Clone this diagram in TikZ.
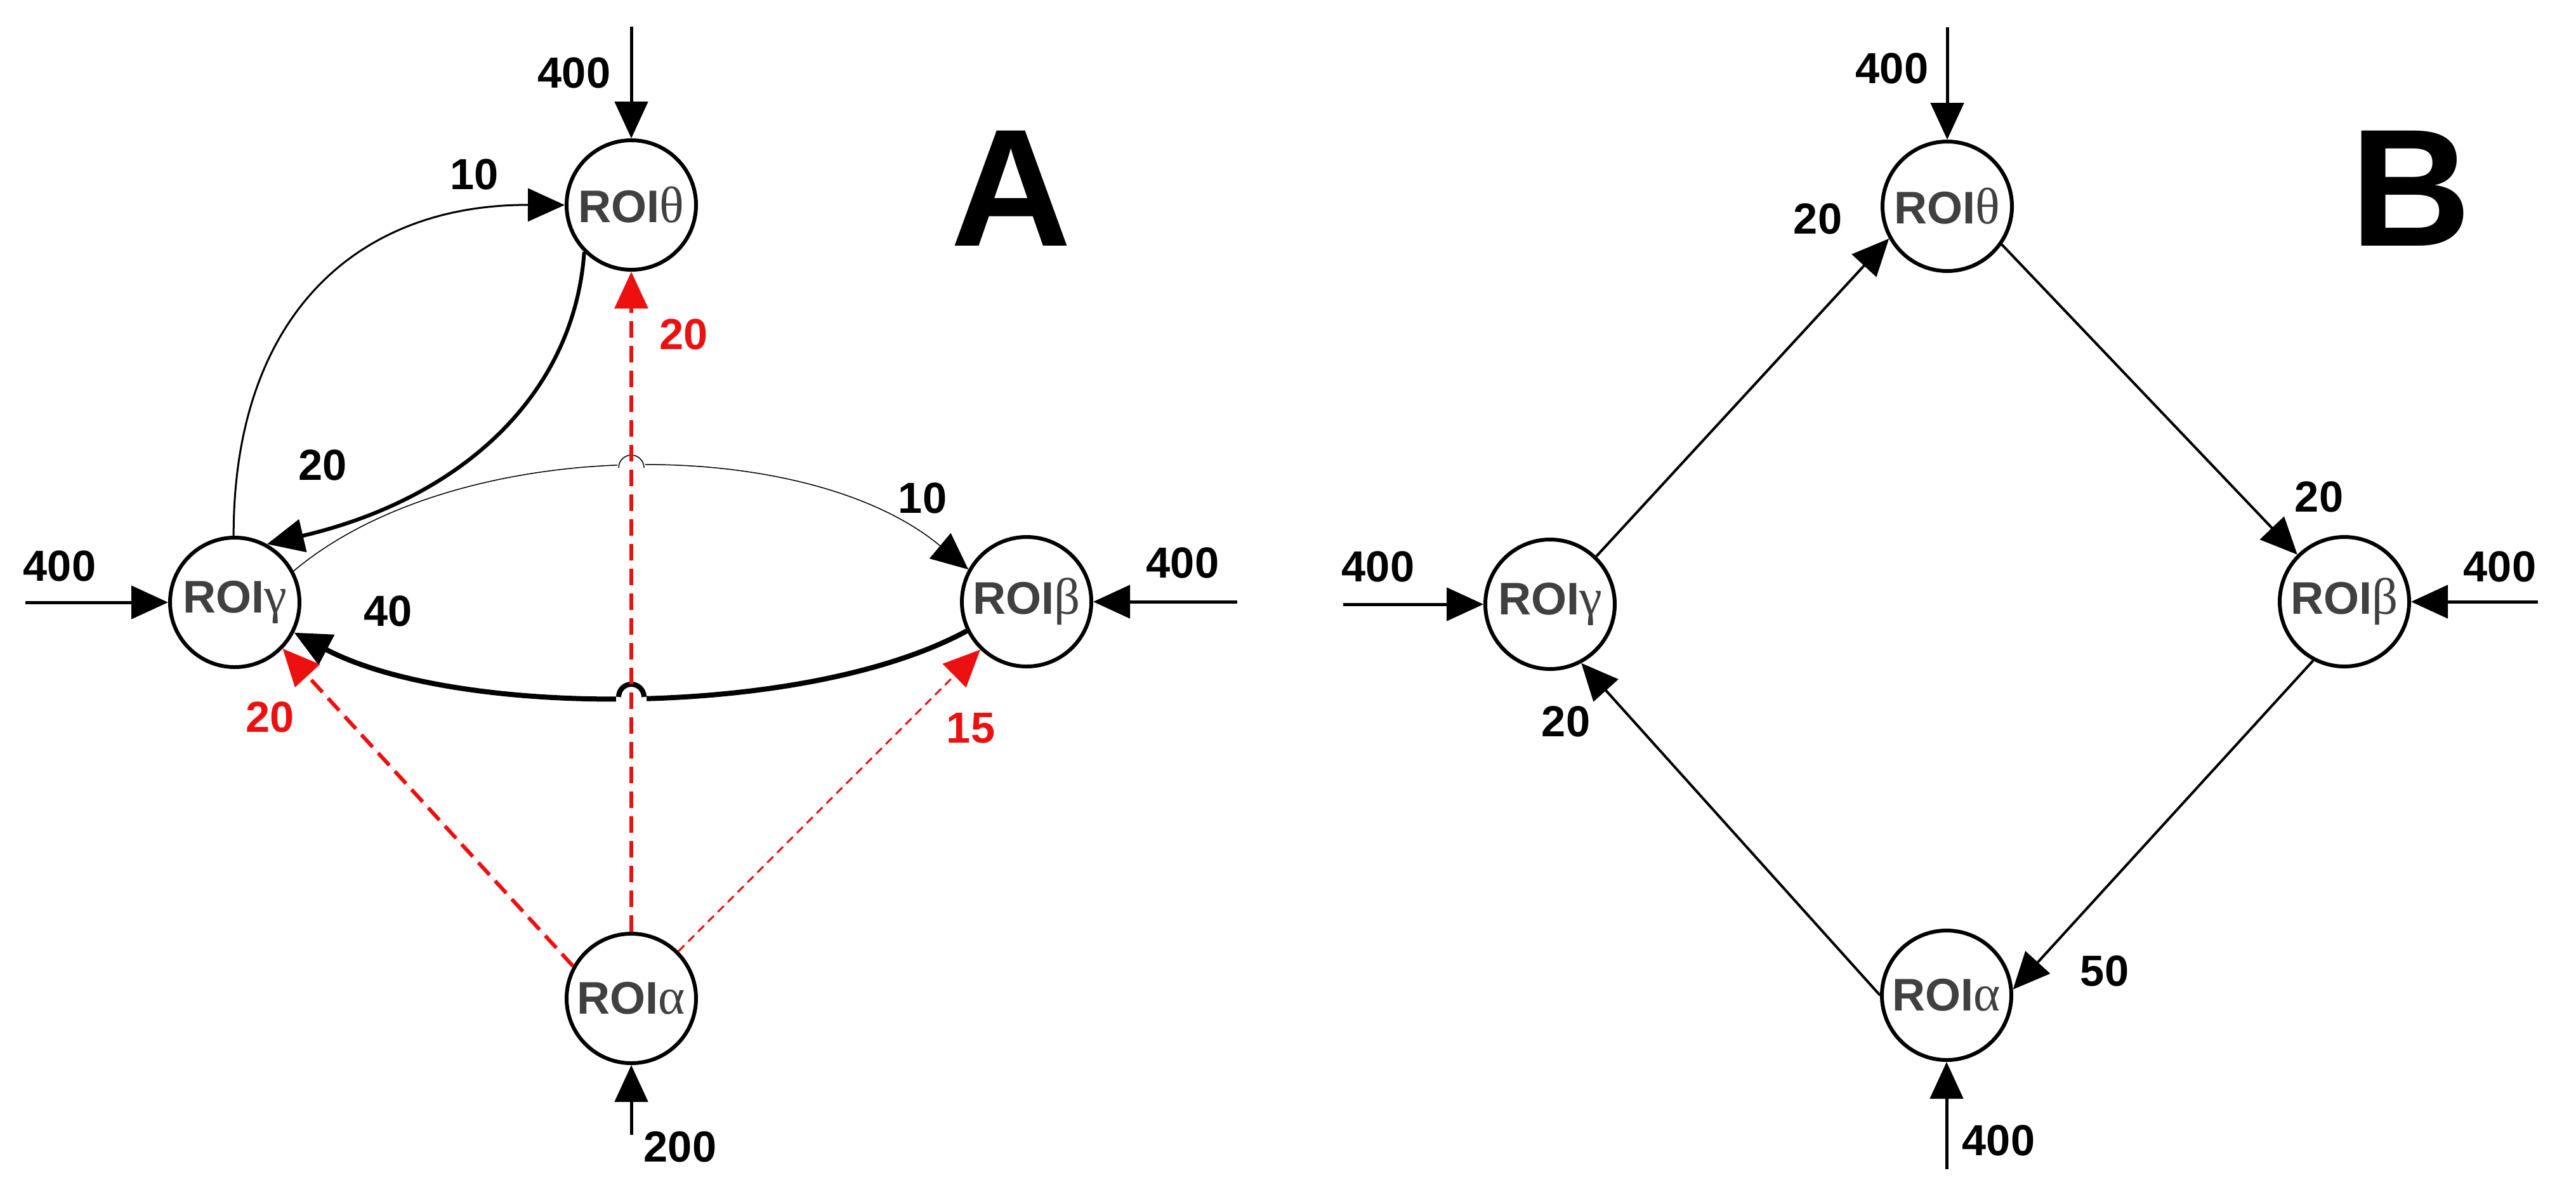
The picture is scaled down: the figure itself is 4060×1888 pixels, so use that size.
\documentclass[tikz,border=0pt]{standalone}
\usepackage{fontspec}
\setmainfont{Liberation Sans}
\newfontfamily\grk{Liberation Serif}
\usetikzlibrary{arrows.meta}
\definecolor{roigray}{RGB}{64,64,64}
\definecolor{rred}{RGB}{236,16,16}
\newcommand{\gk}[1]{{\grk\mdseries\fontsize{23}{24}\selectfont #1}}
\begin{document}
\begin{tikzpicture}[x=0.1mm,y=-0.1mm,
  roi/.style={circle,draw,line width=0.6mm,minimum size=20.4mm,inner sep=0pt,fill=white,
    font=\fontsize{20.5}{22}\selectfont\bfseries,text=roigray},
  lab/.style={font=\fontsize{19.5}{21}\selectfont\bfseries},
  rlab/.style={lab,text=rred},
  big/.style={font=\fontsize{75}{80}\selectfont\bfseries},
  tip/.style={-{Triangle[length=5.8mm,width=5.2mm]}},
  ext/.style={tip,line width=0.5mm},
  rd/.style={tip,draw=rred,fill=rred,line width=0.6mm,dash pattern=on 2.6mm off 1.3mm},
  rdt/.style={tip,draw=rred,fill=rred,line width=0.3mm,dash pattern=on 1.3mm off 0.9mm}]
\useasboundingbox (0,0) rectangle (4060,1888);
% ---------- Panel A ----------
\node[roi] (At) at (995,323) {ROI\gk{θ}};
\node[roi] (Ag) at (370,949) {ROI\gk{γ}};
\node[roi] (Ab) at (1618,948) {ROI\gk{β}};
\node[roi] (Aa) at (995,1573) {ROI\gk{α}};
\coordinate (Ats) at (995,42);
\coordinate (Ags) at (40,949);
\coordinate (Abs) at (1950,948);
\coordinate (Aas) at (995,1788);
\draw[ext] (Ats) -- (At);
\draw[ext] (Ags) -- (Ag);
\draw[ext] (Abs) -- (Ab);
\draw[ext] (Aas) -- (Aa);
% curved arcs
\draw[tip,line width=0.3mm] (Ag.91) .. controls (368,500) and (560,322) .. (At.180);
\draw[tip,line width=0.6mm] (At.225) .. controls (905,620) and (730,785) .. (Ag.61);
\draw[tip,line width=0.15mm] (Ag.28) .. controls (720,683) and (1270,683) .. (Ab.151);
\draw[tip,line width=0.8mm] (Ab.206) .. controls (1270,1132) and (720,1132) .. (Ag.-27);
% hops
\fill[white] (973,725) rectangle (1017,750);
\draw[line width=0.15mm] (975,737) arc (180:0:2mm);
\fill[white] (971,1086) rectangle (1019,1112);
\draw[line width=0.8mm] (975,1098) arc (180:0:2mm);
% red dashed
\draw[rd] (Aa.90) -- (At.270);
\draw[rd] (Aa.151) -- (Ag.-44);
\draw[rdt] (Aa.45) -- (Ab.226);
% labels
\node[lab] (lA1) at (905,115) {400};
\node[lab] (lA2) at (94,892) {400};
\node[lab] (lA3) at (1864,887) {400};
\node[lab] (lA4) at (1072,1807) {200};
\node[lab] (lA5) at (748,275) {10};
\node[lab] (lA6) at (509,733) {20};
\node[lab] (lA7) at (1454,785) {10};
\node[lab] (lA8) at (612,963) {40};
\node[rlab] (lA9) at (1078,527) {20};
\node[rlab] (lA10) at (426,1130) {20};
\node[rlab] (lA11) at (1530,1147) {15};
\node[big] (pA) at (1594,297) {A};
% ---------- Panel B ----------
\node[roi] (Bt) at (3069,325) {ROI\gk{θ}};
\node[roi] (Bg) at (2443,952) {ROI\gk{γ}};
\node[roi] (Bb) at (3695,948) {ROI\gk{β}};
\node[roi] (Ba) at (3068,1568) {ROI\gk{α}};
\coordinate (Bts) at (3069,43);
\coordinate (Bgs) at (2117,952);
\coordinate (Bbs) at (4000,948);
\coordinate (Bas) at (3068,1842);
\draw[ext] (Bts) -- (Bt);
\draw[ext] (Bgs) -- (Bg);
\draw[ext] (Bbs) -- (Bb);
\draw[ext] (Bas) -- (Ba);
\draw[tip,line width=0.4mm] (Bg.46) -- (Bt.209);
\draw[tip,line width=0.4mm] (Bt.-35) -- (Bb.135);
\draw[tip,line width=0.4mm] (Bb.-118) -- (Ba.5);
\draw[tip,line width=0.4mm] (Ba.180) -- (Bg.-62);
\node[lab] (lB1) at (2982,108) {400};
\node[lab] (lB2) at (2172,893) {400};
\node[lab] (lB3) at (3940,893) {400};
\node[lab] (lB4) at (3150,1797) {400};
\node[lab] (lB5) at (2865,345) {20};
\node[lab] (lB6) at (3655,783) {20};
\node[lab] (lB7) at (2468,1137) {20};
\node[lab] (lB8) at (3317,1530) {50};
\node[big] (pB) at (3800,297) {B};
\end{tikzpicture}
\end{document}
